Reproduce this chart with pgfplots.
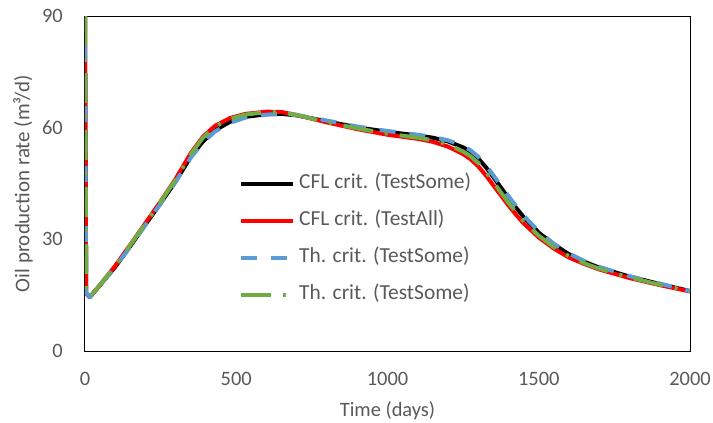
\documentclass[border=0pt]{standalone}
\usepackage{pgfplots}
\pgfplotsset{compat=1.18}
\usepackage{fontspec}
\setmainfont{Carlito}
\definecolor{txt}{HTML}{595959}
\definecolor{myblue}{HTML}{5B9BD5}
\definecolor{mygreen}{HTML}{70AD47}
\begin{document}
\begin{tikzpicture}
\begin{axis}[
 scale only axis, width=605bp, height=335bp,
 xmin=0,xmax=2000,ymin=0,ymax=90,
 xtick={0,500,1000,1500,2000}, ytick={0,30,60,90},
 major tick length=0pt,
 axis line style={black, line width=1bp},
 /pgf/number format/assume math mode=true,
 /pgf/number format/set thousands separator={},
 tick label style={font=\fontsize{20.5}{24}\selectfont, text=txt, inner sep=0pt},
 xticklabel style={yshift=-21bp},
 yticklabel style={xshift=-22bp},
 xlabel={Time (days)}, ylabel={Oil production rate (m³/d)},
 label style={text=txt, inner sep=0pt},
 xlabel style={font=\fontsize{20.5}{24}\selectfont, at={(axis description cs:0.5,0)}, anchor=north, yshift=-50bp},
 ylabel style={font=\fontsize{21}{24}\selectfont, at={(axis description cs:-0.086,0.5)}, anchor=south},
 legend cell align=left,
 legend style={at={(rel axis cs:0.2545,0.53)}, anchor=north west, draw=none, fill=none,
   inner sep=0pt, row sep=16bp, column sep=2bp, font=\fontsize{21.5}{24}\selectfont, text=txt,
   nodes={inner sep=2bp, text height=13bp, text depth=4bp}},
 legend image code/.code={\draw[#1] (0bp,0bp) -- (52bp,0bp);},
 every axis plot/.append style={line width=4bp, line join=round},
]
\addplot[black] table {
0 90
4 15.5
16 14.5
50 17.7
100 22.6
150 28.2
200 34.0
250 39.7
300 45.6
350 52.2
390 56.3
430 59.3
480 61.6
530 62.9
600 63.6
650 63.7
700 63.3
800 61.7
900 60.1
1000 58.9
1100 57.9
1150 57.3
1200 56.3
1250 54.7
1275 53.5
1300 51.7
1325 49.4
1350 46.7
1375 43.9
1400 41.1
1425 38.5
1450 36.0
1500 31.8
1550 28.6
1600 26.0
1650 24.0
1700 22.4
1800 20.0
1900 18.0
2000 16.1
};
\addlegendentry{CFL crit. (TestSome)}
\addplot[red] table {
0 90
4 15.5
16 14.5
50 17.8
100 22.9
150 28.6
200 34.4
250 40.2
300 46.3
350 53.2
390 57.6
430 60.5
480 62.6
530 63.7
600 64.3
650 64.2
700 63.4
800 61.4
900 59.6
1000 58.1
1100 57.0
1150 56.2
1200 54.9
1250 52.9
1275 51.5
1300 49.6
1325 47.2
1350 44.5
1375 41.8
1400 39.1
1425 36.6
1450 34.3
1500 30.5
1550 27.5
1600 25.1
1650 23.4
1700 21.9
1800 19.6
1900 17.7
2000 16.0
};
\addlegendentry{CFL crit. (TestAll)}
\addplot[myblue, dash pattern=on 16bp off 14bp] table {
0 90
4 15.5
16 14.5
50 17.7
100 22.6
150 28.1
200 33.9
250 39.6
300 45.5
350 52.0
390 56.0
430 59.0
480 61.3
530 62.7
600 63.5
650 63.7
700 63.4
800 61.9
900 60.3
1000 59.1
1100 58.1
1150 57.5
1200 56.6
1250 55.1
1275 53.9
1300 52.2
1325 49.9
1350 47.2
1375 44.4
1400 41.6
1425 38.9
1450 36.4
1500 32.1
1550 28.8
1600 26.2
1650 24.2
1700 22.6
1800 20.1
1900 18.1
2000 16.1
};
\addlegendentry{Th. crit. (TestSome)}
\addplot[mygreen, dash pattern=on 30bp off 12bp on 3bp off 12bp] table {
0 90
4 15.5
16 14.5
50 17.8
100 22.8
150 28.5
200 34.3
250 40.1
300 46.1
350 52.9
390 57.3
430 60.3
480 62.4
530 63.5
600 64.2
650 64.1
700 63.4
800 61.5
900 59.8
1000 58.4
1100 57.3
1150 56.6
1200 55.5
1250 53.6
1275 52.3
1300 50.5
1325 48.1
1350 45.4
1375 42.6
1400 39.8
1425 37.3
1450 34.9
1500 31.0
1550 27.9
1600 25.5
1650 23.6
1700 22.1
1800 19.8
1900 17.8
2000 16.0
};
\addlegendentry{Th. crit. (TestSome)}
\end{axis}
\path (current axis.south west) ++(-85bp,-72bp) rectangle ++(713bp,423bp);
\end{tikzpicture}
\end{document}
